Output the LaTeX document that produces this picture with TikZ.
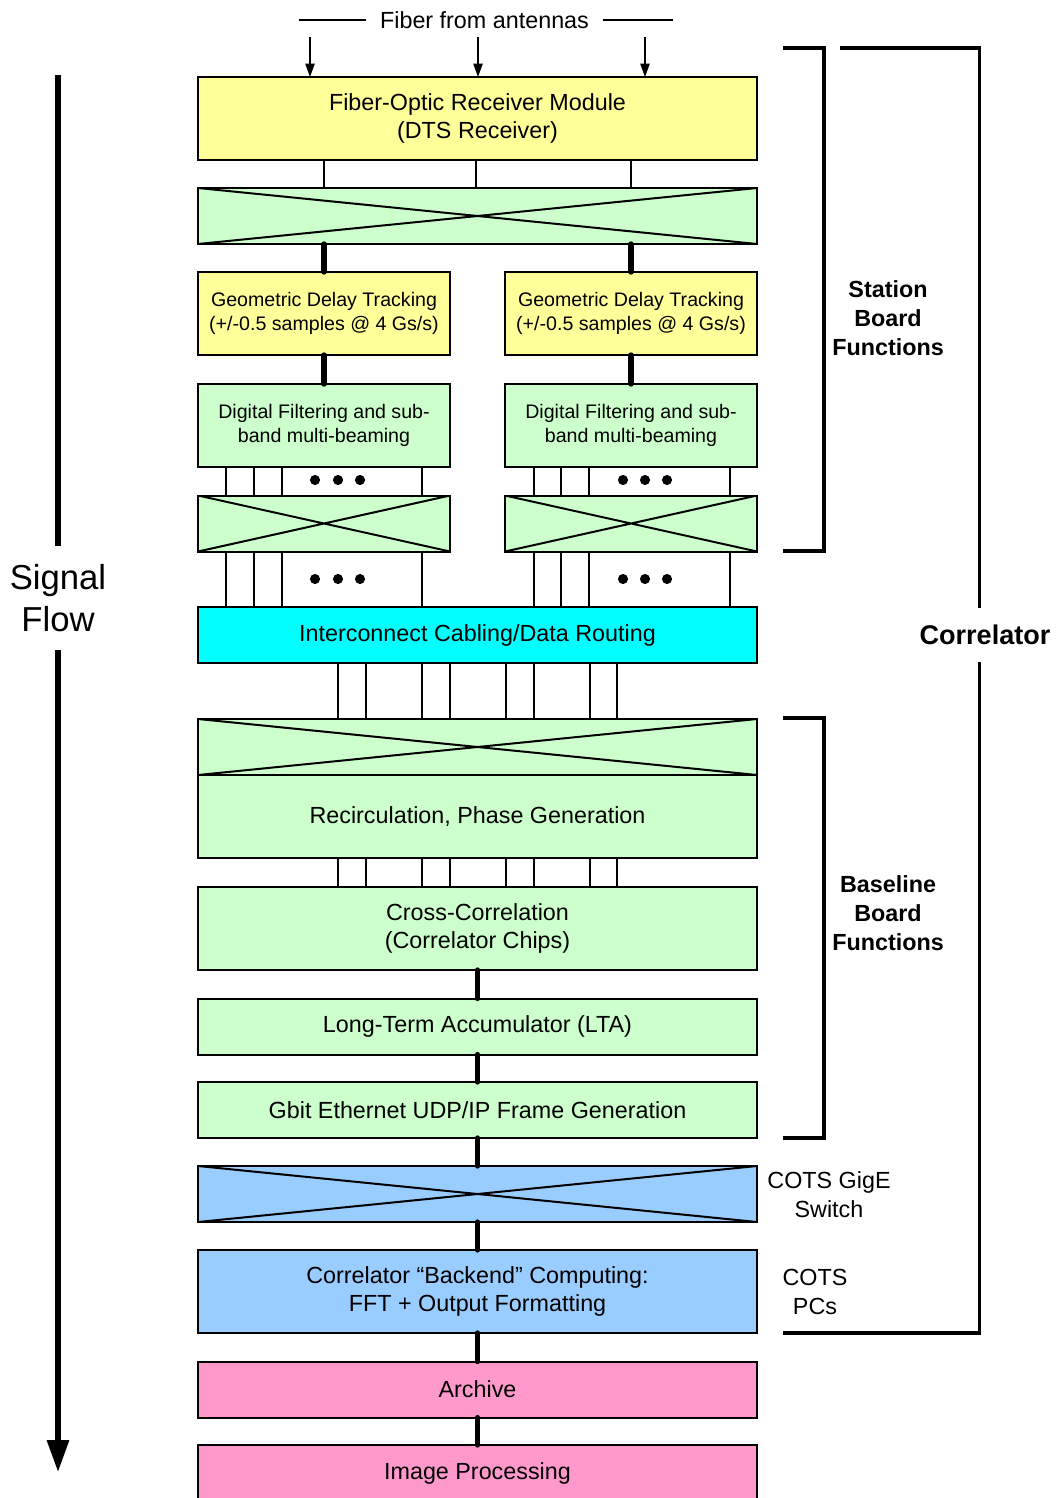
\documentclass[tikz,border=0pt]{standalone}
\usepackage{fontspec}
\setmainfont{Liberation Sans}
\usetikzlibrary{positioning,arrows.meta,calc}
\definecolor{yelfill}{HTML}{FFFF99}
\definecolor{grnfill}{HTML}{CCFFCC}
\definecolor{cynfill}{HTML}{00FFFF}
\definecolor{blufill}{HTML}{99CCFF}
\definecolor{pnkfill}{HTML}{FF99CC}

\begin{document}
\begin{tikzpicture}[
      x=0.75pt,y=-0.75pt,
      every node/.style={font=\fontsize{17.5}{21}\selectfont,align=center,inner sep=0pt,outer sep=0pt},
      blk/.style={draw=black,line width=1.5pt,rectangle},
      full/.style={blk,minimum width=419.25pt},
      half/.style={blk,minimum width=189pt},
      tall/.style={minimum height=62.25pt},
      flat/.style={minimum height=42pt},
      small/.style={font=\fontsize{14.7}{18}\selectfont},
      xbar/.style={flat,fill=grnfill,path picture={
          \draw[line width=1.5pt] (path picture bounding box.north west) -- (path picture bounding box.south east)
                                  (path picture bounding box.south west) -- (path picture bounding box.north east);}},
      wire/.style={draw=black,line width=1.4pt},
      bus/.style={draw=black,line width=4pt,line cap=round},
      flow/.style={draw=black,line width=4pt},
      brk/.style={draw=black,line width=2.3pt},
      side/.style={font=\fontsize{17.5}{21.5}\selectfont\bfseries}
    ]
    \useasboundingbox (0,0) rectangle (1057,1498);
    % receiver and first crossbar
    \node[full,tall,fill=yelfill] (fom) at (477.5,118.5) {Fiber-Optic Receiver Module\\(DTS Receiver)};
    \node[full,xbar] (xb1) at (477.5,216) {};
    % station board columns
    \node[half,tall,fill=yelfill,small] (gdtL) at (324,313.5) {Geometric Delay Tracking\\(+/-0.5 samples @ 4 Gs/s)};
    \node[half,tall,fill=yelfill,small] (gdtR) at (631,313.5) {Geometric Delay Tracking\\(+/-0.5 samples @ 4 Gs/s)};
    \node[half,tall,fill=grnfill,small] (dfL) at (324,425.5) {Digital Filtering and sub-\\band multi-beaming};
    \node[half,tall,fill=grnfill,small] (dfR) at (631,425.5) {Digital Filtering and sub-\\band multi-beaming};
    \node[half,xbar] (xbL) at (324,523.5) {};
    \node[half,xbar] (xbR) at (631,523.5) {};
    % interconnect
    \node[full,flat,fill=cynfill] (icr) at (477.5,635) {Interconnect Cabling/Data Routing};
    % baseline board
    \node[full,xbar] (xb2) at (477.5,747) {};
    \node[full,tall,fill=grnfill,below=0pt of xb2] (rpg) {Recirculation, Phase Generation};
    \node[full,tall,fill=grnfill] (xcor) at (477.5,928.5) {Cross-Correlation\\(Correlator Chips)};
    \node[full,flat,fill=grnfill] (lta) at (477.5,1026.5) {Long-Term Accumulator (LTA)};
    \node[full,flat,fill=grnfill] (gbe) at (477.5,1110) {Gbit Ethernet UDP/IP Frame Generation};
    % backend
    \node[full,xbar,fill=blufill] (gsw) at (477.5,1194) {};
    \node[full,tall,fill=blufill] (bke) at (477.5,1291.5) {Correlator “Backend” Computing:\\FFT + Output Formatting};
    \node[full,flat,fill=pnkfill] (arch) at (477.5,1389.5) {Archive};
    \node[full,flat,fill=pnkfill] (img) at (477.5,1473) {Image Processing};
    % fiber inputs
    \node[inner xsep=10.5pt] (fib) at (484.5,20) {Fiber from antennas};
    \draw[wire,line width=1pt] (fib.west) -- ++(-67,0);
    \draw[wire,line width=1pt] (fib.east) -- ++(70,0);
    \foreach \x/\n in {310/1,478/2,645/3} {
      \coordinate (fa\n) at (\x,37);
      \draw[wire,line width=1pt,-{Triangle[length=10pt,width=7pt]}] (fa\n) -- (fa\n |- fom.north);
    }
    % thin links
    \foreach \x in {324,476,631}
      \draw[wire] (\x,0 |- fom.south) -- (\x,0 |- xb1.north);
    \foreach \x in {226,254,282,422,534,561,589,730} {
      \draw[wire] (\x,0 |- dfL.south) -- (\x,0 |- xbL.north);
      \draw[wire] (\x,0 |- xbL.south) -- (\x,0 |- icr.north);
    }
    \foreach \x in {338,366,422,450,506,534,590,617} {
      \draw[wire] (\x,0 |- icr.south) -- (\x,0 |- xb2.north);
      \draw[wire] (\x,0 |- rpg.south) -- (\x,0 |- xcor.north);
    }
    \foreach \x in {315,338,360,623,645,667}
      \foreach \y in {480,579}
        \fill (\x,\y) circle (3.8pt);
    % thick links
    \foreach \col in {gdtL,gdtR} {
      \draw[bus] (xb1.south -| \col.north) -- (\col.north);
    }
    \draw[bus] (gdtL.south) -- (dfL.north);
    \draw[bus] (gdtR.south) -- (dfR.north);
    \foreach \a/\b in {xcor/lta,lta/gbe,gbe/gsw,gsw/bke,bke/arch,arch/img}
      \draw[bus] (\a.south) -- (\b.north);
    % signal flow arrow
    \node[font=\fontsize{26}{31.5}\selectfont,inner ysep=14pt] (sig) at (58,598) {Signal\\Flow};
    \coordinate (sigA) at (58,75);
    \coordinate (sigB) at (58,1472);
    \draw[flow] (sigA) -- (sig.north);
    \draw[flow,-{Triangle[length=24pt,width=16pt]}] (sig.south) -- (sigB);
    % brackets
    \draw[brk] (783,48) -- (824,48) -- (824,551) -- (783,551);
    \node[side] (stn) at (888,318) {Station\\Board\\Functions};
    \draw[brk] (783,718) -- (824,718) -- (824,1138) -- (783,1138);
    \node[side] (bsl) at (888,913) {Baseline\\Board\\Functions};
    \node[font=\fontsize{20.3}{24}\selectfont\bfseries,inner ysep=12.75pt] (cor) at (985,635) {Correlator};
    \draw[brk] (840,48) -| ([xshift=-4pt]cor.north);
    \draw[brk] ([xshift=-4pt]cor.south) |- (783,1333);
    % commodity parts
    \node[font=\fontsize{17.5}{21.75}\selectfont] (cgs) at (829,1195) {COTS GigE\\Switch};
    \node[font=\fontsize{17.5}{21.75}\selectfont] (cpc) at (815,1292) {COTS\\PCs};
  \end{tikzpicture}
\end{document}
